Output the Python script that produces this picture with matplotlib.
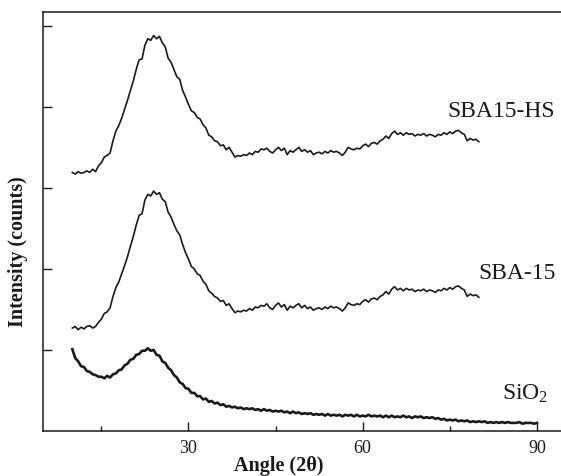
import numpy as np
import matplotlib
matplotlib.use("Agg")
import matplotlib.pyplot as plt
from matplotlib.ticker import FixedLocator, NullFormatter

plt.rcParams['font.family'] = ['Liberation Serif', 'DejaVu Serif']
plt.rcParams['mathtext.fontset'] = 'custom'
plt.rcParams['mathtext.rm'] = 'Liberation Serif'
plt.rcParams['mathtext.it'] = 'Liberation Serif'

# ---------------- data ----------------
angle_sba = np.arange(10.0, 80.01, 0.5)
angle_sio2 = np.arange(10.0, 90.01, 0.5)

sba15_hs = [
    3.19, 3.17, 3.20, 3.18, 3.19, 3.21, 3.19, 3.23, 3.20, 3.27,
    3.31, 3.38, 3.40, 3.43, 3.58, 3.70, 3.77, 3.86, 3.97, 4.08,
    4.20, 4.32, 4.46, 4.58, 4.59, 4.76, 4.84, 4.82, 4.88, 4.84,
    4.87, 4.79, 4.74, 4.60, 4.55, 4.46, 4.37, 4.34, 4.20, 4.12,
    4.03, 3.95, 3.93, 3.87, 3.85, 3.78, 3.74, 3.65, 3.63, 3.58,
    3.57, 3.52, 3.53, 3.47, 3.50, 3.44, 3.38, 3.40, 3.39, 3.41,
    3.40, 3.43, 3.41, 3.45, 3.44, 3.48, 3.47, 3.49, 3.45, 3.43,
    3.47, 3.50, 3.46, 3.49, 3.41, 3.46, 3.44, 3.47, 3.50, 3.45,
    3.47, 3.44, 3.46, 3.41, 3.43, 3.44, 3.42, 3.45, 3.43, 3.46,
    3.44, 3.45, 3.43, 3.40, 3.44, 3.50, 3.48, 3.47, 3.49, 3.48,
    3.52, 3.54, 3.51, 3.55, 3.56, 3.54, 3.58, 3.60, 3.64, 3.61,
    3.67, 3.70, 3.66, 3.68, 3.65, 3.68, 3.66, 3.67, 3.64, 3.66,
    3.65, 3.67, 3.64, 3.66, 3.65, 3.63, 3.66, 3.65, 3.68, 3.66,
    3.69, 3.67, 3.70, 3.71, 3.68, 3.66, 3.58, 3.61, 3.59, 3.60,
    3.57,
]

sba15 = [
    1.27, 1.29, 1.25, 1.28, 1.26, 1.29, 1.30, 1.27, 1.29, 1.34,
    1.38, 1.45, 1.47, 1.52, 1.66, 1.77, 1.84, 1.94, 2.04, 2.15,
    2.28, 2.40, 2.54, 2.66, 2.68, 2.85, 2.92, 2.90, 2.96, 2.92,
    2.94, 2.86, 2.83, 2.70, 2.64, 2.55, 2.47, 2.42, 2.30, 2.20,
    2.12, 2.03, 2.00, 1.94, 1.92, 1.85, 1.81, 1.73, 1.70, 1.66,
    1.64, 1.60, 1.61, 1.55, 1.57, 1.51, 1.46, 1.48, 1.47, 1.49,
    1.48, 1.51, 1.49, 1.53, 1.52, 1.55, 1.54, 1.57, 1.52, 1.50,
    1.55, 1.58, 1.53, 1.56, 1.49, 1.54, 1.52, 1.55, 1.57, 1.52,
    1.55, 1.51, 1.53, 1.49, 1.51, 1.52, 1.50, 1.53, 1.51, 1.54,
    1.52, 1.53, 1.51, 1.48, 1.52, 1.58, 1.56, 1.55, 1.57, 1.56,
    1.60, 1.62, 1.59, 1.63, 1.64, 1.62, 1.66, 1.68, 1.72, 1.69,
    1.75, 1.78, 1.74, 1.76, 1.73, 1.76, 1.74, 1.75, 1.72, 1.74,
    1.73, 1.75, 1.72, 1.74, 1.73, 1.71, 1.74, 1.73, 1.76, 1.74,
    1.77, 1.75, 1.78, 1.79, 1.76, 1.74, 1.66, 1.69, 1.67, 1.68,
    1.65,
]

sio2 = [
    1.01, 0.90, 0.86, 0.80, 0.79, 0.74, 0.73, 0.70, 0.69, 0.67,
    0.67, 0.65, 0.68, 0.66, 0.70, 0.71, 0.75, 0.76, 0.81, 0.83,
    0.88, 0.89, 0.94, 0.95, 0.99, 0.99, 1.02, 0.99, 1.00, 0.94,
    0.93, 0.86, 0.84, 0.78, 0.75, 0.69, 0.66, 0.60, 0.58, 0.53,
    0.52, 0.47, 0.47, 0.43, 0.43, 0.39, 0.40, 0.36, 0.37, 0.34,
    0.35, 0.32, 0.33, 0.30, 0.31, 0.29, 0.30, 0.28, 0.29, 0.27,
    0.28, 0.27, 0.28, 0.26, 0.27, 0.25, 0.27, 0.25, 0.26, 0.24,
    0.25, 0.24, 0.25, 0.23, 0.24, 0.22, 0.24, 0.22, 0.23, 0.21,
    0.22, 0.21, 0.22, 0.20, 0.21, 0.20, 0.21, 0.19, 0.21, 0.19,
    0.20, 0.19, 0.20, 0.18, 0.20, 0.19, 0.20, 0.18, 0.20, 0.18,
    0.19, 0.18, 0.20, 0.18, 0.19, 0.18, 0.19, 0.17, 0.19, 0.17,
    0.19, 0.17, 0.18, 0.17, 0.19, 0.17, 0.18, 0.16, 0.18, 0.17,
    0.18, 0.16, 0.17, 0.16, 0.17, 0.15, 0.16, 0.14, 0.15, 0.13,
    0.14, 0.13, 0.14, 0.12, 0.13, 0.12, 0.13, 0.11, 0.12, 0.11,
    0.12, 0.11, 0.12, 0.10, 0.11, 0.10, 0.11, 0.10, 0.11, 0.10,
    0.11, 0.10, 0.10, 0.10, 0.11, 0.09, 0.10, 0.10, 0.10, 0.09,
    0.10,
]

labels = ['SBA15-HS', 'SBA-15', 'SiO$_\\mathrm{2}$']
label_y = [3.89, 1.89, 0.40]
label_x = [93.1, 93.2, 91.9]

x_major = [30, 60, 90]
x_minor = [15, 45, 75]
y_ticks = [1, 2, 3, 4, 5]

# ---------------- figure ----------------
W, H = 561, 477
fig = plt.figure(figsize=(W / 100, H / 100), dpi=100)
ax = fig.add_axes([43 / W, (H - 432) / H, (561 - 43) / W, (432 - 13) / H])

ax.plot(angle_sba, sba15_hs, color='#1a1a1a', lw=1.2)
ax.plot(angle_sba, sba15, color='#1a1a1a', lw=1.2)
ax.plot(angle_sio2, sio2, color='#1a1a1a', lw=1.9)

ax.set_xlim(4.95, 94.15)
ax.set_ylim(0, 5.17)

for t, xx, yy in zip(labels, label_x, label_y):
    ax.text(xx, yy, t, ha='right', va='baseline', fontsize=17, color='#1a1a1a')

ax.xaxis.set_major_locator(FixedLocator(x_major))
ax.xaxis.set_minor_locator(FixedLocator(x_minor))
ax.xaxis.set_minor_formatter(NullFormatter())
ax.set_yticks(y_ticks)
ax.set_yticklabels([])

ax.tick_params(axis='both', which='major', direction='in', length=6.5, width=1.0,
               labelsize=13, pad=6, color='#1a1a1a', labelcolor='#1a1a1a')
ax.tick_params(axis='x', which='minor', direction='in', length=3.8, width=1.0, color='#1a1a1a')
ax.tick_params(axis='y', which='both', left=True, right=False)
ax.tick_params(axis='x', which='both', top=False)

for side in ['left', 'bottom', 'top']:
    ax.spines[side].set_linewidth(1.1)
    ax.spines[side].set_color('#1a1a1a')
ax.spines['right'].set_visible(False)

ax.set_xlabel('Angle (2θ)', fontsize=14.5, fontweight='bold', color='#1a1a1a')
ax.xaxis.set_label_coords((279 - 43) / (561 - 43), -(466 - 432) / (432 - 13), transform=ax.transAxes)
ax.xaxis.label.set_va('center')
ax.set_ylabel('Intensity (counts)', fontsize=14.5, fontweight='bold', color='#1a1a1a')
ax.yaxis.set_label_coords(-(43 - 18) / (561 - 43), (432 - 252) / (432 - 13), transform=ax.transAxes)
ax.yaxis.label.set_va('center')

fig.savefig('out.png', dpi=100)
